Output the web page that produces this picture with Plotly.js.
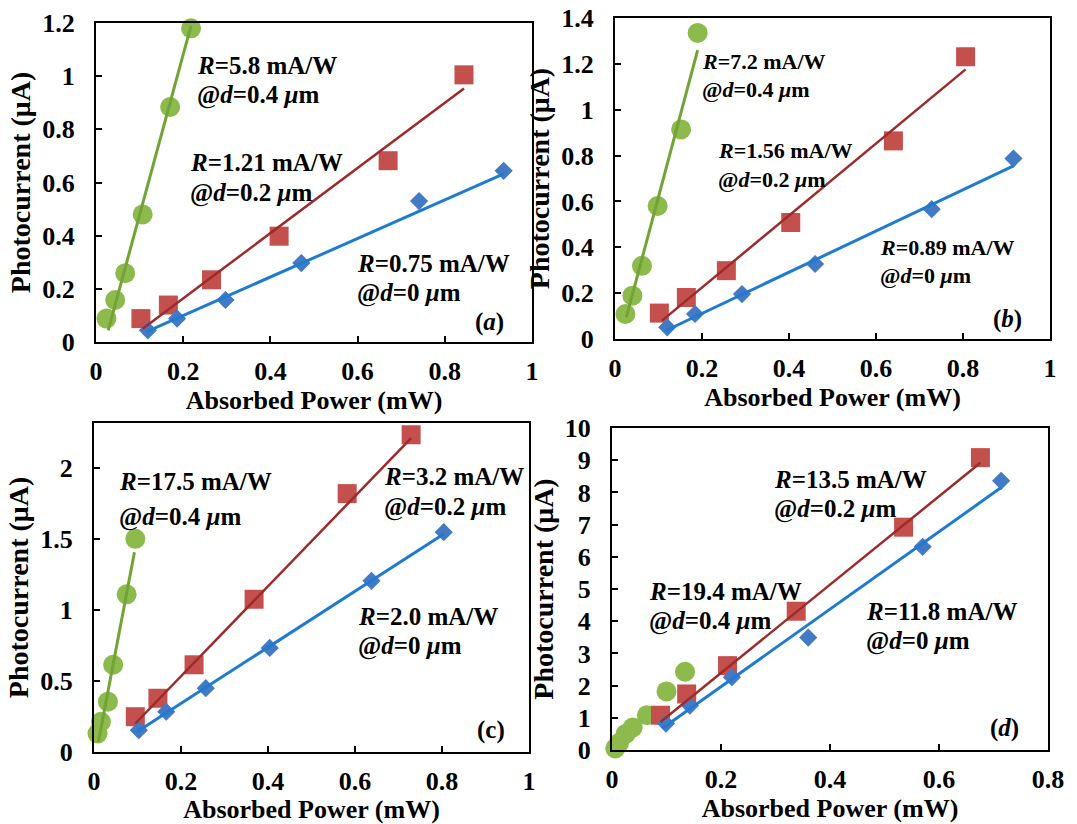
<!DOCTYPE html>
<html>
<head>
<meta charset="utf-8">
<script src="https://cdn.plot.ly/plotly-3.0.1.min.js"></script>
<style>html,body{margin:0;padding:0;background:#fff;}#plot{width:1077px;height:824px;}</style>
</head>
<body>
<div id="plot"></div>
<script>
// ---------- Panel (a) ----------
const a_green_x = [0.024, 0.044, 0.067, 0.107, 0.17, 0.218];
const a_green_y = [0.088, 0.158, 0.259, 0.48, 0.884, 1.18];
const a_green_fit_x = [0.028, 0.218];
const a_green_fit_y = [0.044, 1.19];
const a_red_x = [0.103, 0.166, 0.265, 0.42, 0.67, 0.844];
const a_red_y = [0.088, 0.139, 0.234, 0.398, 0.682, 1.005];
const a_red_fit_x = [0.107, 0.844];
const a_red_fit_y = [0.05, 0.954];
const a_blue_x = [0.119, 0.186, 0.297, 0.471, 0.741, 0.935];
const a_blue_y = [0.044, 0.088, 0.158, 0.297, 0.53, 0.644];
const a_blue_fit_x = [0.115, 0.935];
const a_blue_fit_y = [0.038, 0.632];

// ---------- Panel (b) ----------
const b_green_x = [0.024, 0.04, 0.062, 0.098, 0.152, 0.19];
const b_green_y = [0.109, 0.189, 0.319, 0.58, 0.914, 1.335];
const b_green_fit_x = [0.026, 0.19];
const b_green_fit_y = [0.094, 1.26];
const b_red_x = [0.102, 0.164, 0.256, 0.404, 0.64, 0.806];
const b_red_y = [0.113, 0.181, 0.298, 0.508, 0.864, 1.231];
const b_red_fit_x = [0.108, 0.806];
const b_red_fit_y = [0.08, 1.176];
const b_blue_x = [0.12, 0.184, 0.292, 0.46, 0.728, 0.916];
const b_blue_y = [0.051, 0.109, 0.196, 0.327, 0.566, 0.787];
const b_blue_fit_x = [0.116, 0.916];
const b_blue_fit_y = [0.036, 0.755];

// ---------- Panel (c) ----------
const c_green_x = [0.008, 0.016, 0.032, 0.044, 0.075, 0.095];
const c_green_y = [0.13, 0.213, 0.355, 0.615, 1.112, 1.503];
const c_green_fit_x = [0.01, 0.093];
const c_green_fit_y = [0.071, 1.408];
const c_red_x = [0.095, 0.147, 0.23, 0.368, 0.582, 0.729];
const c_red_y = [0.249, 0.379, 0.615, 1.077, 1.822, 2.237];
const c_red_fit_x = [0.095, 0.729];
const c_red_fit_y = [0.201, 2.213];
const c_blue_x = [0.103, 0.166, 0.257, 0.404, 0.638, 0.804];
const c_blue_y = [0.154, 0.284, 0.45, 0.734, 1.207, 1.55];
const c_blue_fit_x = [0.099, 0.804];
const c_blue_fit_y = [0.142, 1.538];

// ---------- Panel (d) ----------
const d_green_x = [0.006, 0.013, 0.025, 0.038, 0.064, 0.1, 0.134];
const d_green_y = [0.05, 0.22, 0.5, 0.7, 1.08, 1.82, 2.43];
const d_red_x = [0.089, 0.137, 0.212, 0.338, 0.535, 0.676];
const d_red_y = [1.08, 1.74, 2.62, 4.31, 6.92, 9.08];
const d_red_fit_x = [0.089, 0.676];
const d_red_fit_y = [0.87, 8.92];
const d_blue_x = [0.099, 0.143, 0.22, 0.36, 0.57, 0.714];
const d_blue_y = [0.82, 1.38, 2.26, 3.49, 6.31, 8.36];
const d_blue_fit_x = [0.092, 0.714];
const d_blue_fit_y = [0.67, 8.15];

// ---------- Text ----------
const xTitle = 'Absorbed Power (mW)';
const yTitle = 'Photocurrent (μA)';
const panelLabels = ['(<i>a</i>)', '(<i>b</i>)', '(c)', '(<i>d</i>)'];
const a_labels = ['<i>R</i>=5.8 mA/W', '@<i>d</i>=0.4 <i>μ</i>m', '<i>R</i>=1.21 mA/W', '@<i>d</i>=0.2 <i>μ</i>m', '<i>R</i>=0.75 mA/W', '@<i>d</i>=0 <i>μ</i>m'];
const b_labels = ['<i>R</i>=7.2 mA/W', '@<i>d</i>=0.4 <i>μ</i>m', '<i>R</i>=1.56 mA/W', '@<i>d</i>=0.2 <i>μ</i>m', '<i>R</i>=0.89 mA/W', '@<i>d</i>=0 <i>μ</i>m'];
const c_labels = ['<i>R</i>=17.5 mA/W', '@<i>d</i>=0.4 <i>μ</i>m', '<i>R</i>=3.2 mA/W', '@<i>d</i>=0.2 <i>μ</i>m', '<i>R</i>=2.0 mA/W', '@<i>d</i>=0 <i>μ</i>m'];
const d_labels = ['<i>R</i>=13.5 mA/W', '@<i>d</i>=0.2 <i>μ</i>m', '<i>R</i>=19.4 mA/W', '@<i>d</i>=0.4 <i>μ</i>m', '<i>R</i>=11.8 mA/W', '@<i>d</i>=0 <i>μ</i>m'];

// ---------- Styles ----------
const FONT = '"Times New Roman", "Liberation Serif", serif';
const GREEN_M = '#8cba4c', GREEN_L = '#72a336';
const RED_M = '#c4504d', RED_L = '#9e2b2b';
const BLUE_M = '#4479c4', BLUE_L = '#1f7bd0';

const traces = [];
function pts(x, y, xa, ya, sym, color, size) {
  traces.push({x: x, y: y, xaxis: xa, yaxis: ya, type: 'scatter', mode: 'markers', cliponaxis: false,
    marker: {symbol: sym, color: color, size: size, line: {width: 0}}, hoverinfo: 'x+y'});
}
function fit(x, y, xa, ya, color, w) {
  traces.push({x: x, y: y, xaxis: xa, yaxis: ya, type: 'scatter', mode: 'lines', cliponaxis: false,
    line: {color: color, width: w}, hoverinfo: 'skip'});
}
const SC = 20, SS = 19, SD = 14;
// (a)
pts(a_green_x, a_green_y, 'x', 'y', 'circle', GREEN_M, SC);
pts(a_red_x, a_red_y, 'x', 'y', 'square', RED_M, SS);
pts(a_blue_x, a_blue_y, 'x', 'y', 'diamond', BLUE_M, SD);
fit(a_green_fit_x, a_green_fit_y, 'x', 'y', GREEN_L, 3);
fit(a_red_fit_x, a_red_fit_y, 'x', 'y', RED_L, 2.5);
fit(a_blue_fit_x, a_blue_fit_y, 'x', 'y', BLUE_L, 3);
// (b)
pts(b_green_x, b_green_y, 'x2', 'y2', 'circle', GREEN_M, SC);
pts(b_red_x, b_red_y, 'x2', 'y2', 'square', RED_M, SS);
pts(b_blue_x, b_blue_y, 'x2', 'y2', 'diamond', BLUE_M, SD);
fit(b_green_fit_x, b_green_fit_y, 'x2', 'y2', GREEN_L, 3);
fit(b_red_fit_x, b_red_fit_y, 'x2', 'y2', RED_L, 2.5);
fit(b_blue_fit_x, b_blue_fit_y, 'x2', 'y2', BLUE_L, 3);
// (c)
pts(c_green_x, c_green_y, 'x3', 'y3', 'circle', GREEN_M, SC);
pts(c_red_x, c_red_y, 'x3', 'y3', 'square', RED_M, SS);
pts(c_blue_x, c_blue_y, 'x3', 'y3', 'diamond', BLUE_M, SD);
fit(c_green_fit_x, c_green_fit_y, 'x3', 'y3', GREEN_L, 3);
fit(c_red_fit_x, c_red_fit_y, 'x3', 'y3', RED_L, 2.5);
fit(c_blue_fit_x, c_blue_fit_y, 'x3', 'y3', BLUE_L, 3);
// (d)
pts(d_green_x, d_green_y, 'x4', 'y4', 'circle', GREEN_M, SC);
pts(d_red_x, d_red_y, 'x4', 'y4', 'square', RED_M, SS);
pts(d_blue_x, d_blue_y, 'x4', 'y4', 'diamond', BLUE_M, SD);
fit(d_red_fit_x, d_red_fit_y, 'x4', 'y4', RED_L, 2.5);
fit(d_blue_fit_x, d_blue_fit_y, 'x4', 'y4', BLUE_L, 3);

const W = 1077, H = 824;
function xd(l, r) { return [l / W, r / W]; }
function yd(b, t) { return [1 - b / H, 1 - t / H]; }

function xaxis(dom, range, anchor) {
  return {domain: dom, range: range, anchor: anchor, dtick: 0.2, tick0: 0,
    showgrid: false, zeroline: false, showline: true, linecolor: '#000', linewidth: 2, mirror: true,
    ticks: 'inside', ticklen: 6, tickwidth: 2, tickcolor: '#000', ticklabelstandoff: 5,
    tickfont: {family: FONT, size: 26, color: '#000', weight: 'bold'},
    title: {text: xTitle, font: {family: FONT, size: 26, color: '#000', weight: 'bold'}, standoff: 1}};
}
function yaxis(dom, range, dtick, anchor) {
  return {domain: dom, range: range, anchor: anchor, dtick: dtick, tick0: 0,
    showgrid: false, zeroline: false, showline: true, linecolor: '#000', linewidth: 2, mirror: true,
    ticks: 'inside', ticklen: 6, tickwidth: 2, tickcolor: '#000', ticklabelstandoff: 14,
    tickfont: {family: FONT, size: 26, color: '#000', weight: 'bold'},
    title: {text: yTitle, font: {family: FONT, size: 28, color: '#000', weight: 'bold'}, standoff: 3}};
}

const annotations = [];
function ann(xref, yref, x, y, text, anchor, size) {
  annotations.push({xref: xref, yref: yref, x: x, y: y, text: text, showarrow: false,
    xanchor: anchor || 'left', yanchor: 'middle',
    font: {family: FONT, size: size || 25, color: '#000', weight: 'bold'}});
}
// (a)
ann('x', 'y', 0.226, 1.04, a_labels[0]); ann('x', 'y', 0.226, 0.93, a_labels[1]);
ann('x', 'y', 0.21, 0.676, a_labels[2]); ann('x', 'y', 0.21, 0.562, a_labels[3]);
ann('x', 'y', 0.594, 0.297, a_labels[4]); ann('x', 'y', 0.594, 0.183, a_labels[5]);
ann('x', 'y', 0.94, 0.076, panelLabels[0], 'right');
// (b)
ann('x2', 'y2', 0.196, 1.21, b_labels[0], 'left', 22); ann('x2', 'y2', 0.196, 1.089, b_labels[1], 'left', 22);
ann('x2', 'y2', 0.232, 0.82, b_labels[2], 'left', 22); ann('x2', 'y2', 0.232, 0.697, b_labels[3], 'left', 22);
ann('x2', 'y2', 0.604, 0.399, b_labels[4], 'left', 22); ann('x2', 'y2', 0.604, 0.276, b_labels[5], 'left', 22);
ann('x2', 'y2', 0.94, 0.087, panelLabels[1], 'right');
// (c)
ann('x3', 'y3', 0.052, 1.905, c_labels[0]); ann('x3', 'y3', 0.052, 1.657, c_labels[1]);
ann('x3', 'y3', 0.661, 1.94, c_labels[2]); ann('x3', 'y3', 0.661, 1.728, c_labels[3]);
ann('x3', 'y3', 0.602, 0.959, c_labels[4]); ann('x3', 'y3', 0.602, 0.746, c_labels[5]);
ann('x3', 'y3', 0.95, 0.155, panelLabels[2], 'right');
// (d)
ann('x4', 'y4', 0.293, 8.41, d_labels[0]); ann('x4', 'y4', 0.293, 7.49, d_labels[1]);
ann('x4', 'y4', 0.064, 4.92, d_labels[2]); ann('x4', 'y4', 0.064, 4.0, d_labels[3]);
ann('x4', 'y4', 0.462, 4.31, d_labels[4]); ann('x4', 'y4', 0.462, 3.38, d_labels[5]);
ann('x4', 'y4', 0.75, 0.67, panelLabels[3], 'right');

const layout = {
  width: W, height: H, margin: {l: 0, r: 0, t: 0, b: 0},
  paper_bgcolor: '#fff', plot_bgcolor: '#fff', showlegend: false,
  font: {family: FONT, color: '#000'},
  xaxis: xaxis(xd(96, 532), [0, 1], 'y'),
  yaxis: yaxis(yd(342, 23), [0, 1.2], 0.2, 'x'),
  xaxis2: xaxis(xd(615, 1050), [0, 1], 'y2'),
  yaxis2: yaxis(yd(339, 18), [0, 1.4], 0.2, 'x2'),
  xaxis3: xaxis(xd(94, 529), [0, 1], 'y3'),
  yaxis3: yaxis(yd(752, 423), [0, 2.32], 0.5, 'x3'),
  xaxis4: xaxis(xd(612, 1048), [0, 0.8], 'y4'),
  yaxis4: yaxis(yd(750, 428), [0, 10], 1, 'x4'),
  annotations: annotations
};

Plotly.newPlot('plot', traces, layout, {displayModeBar: false, staticPlot: true});
</script>
</body>
</html>
